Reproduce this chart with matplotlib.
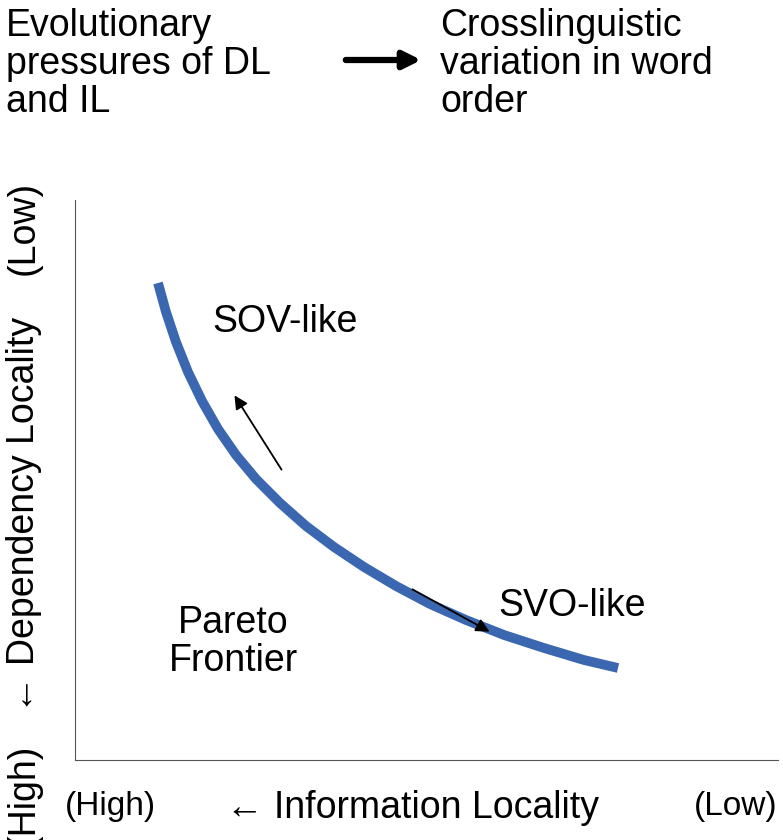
import matplotlib

matplotlib.use("Agg")
import matplotlib.pyplot as plt

# frontier curve in pixel coordinates
curve_px_x = [158, 166, 176, 188, 202, 218, 236, 256, 280, 306, 334, 364, 396, 430, 466, 504, 544, 584, 618]
curve_px_y = [283, 312, 342, 372, 401, 429, 455, 479, 503, 526, 547, 567, 586, 604, 620, 635, 648, 660, 668]

plt.rcParams["font.family"] = ["Liberation Sans", "DejaVu Sans"]
W, H = 783, 840
fig = plt.figure(figsize=(W / 100, H / 100), dpi=100)
ax = fig.add_axes([75 / W, 1 - 760 / H, 703 / W, 560 / H])
ax.set_xlim(0, 1)
ax.set_ylim(0, 1)
ax.set_xticks([])
ax.set_yticks([])
for s in ["top", "right"]:
    ax.spines[s].set_visible(False)
ax.spines["left"].set_color("#555555")
ax.spines["bottom"].set_color("#555555")


def px(x, y):
    return ((x - 75) / 703, (760 - y) / 560)


cx = [(x - 75) / 703 for x in curve_px_x]
cy = [(760 - y) / 560 for y in curve_px_y]
ax.plot(cx, cy, color="#3b67b0", lw=7, solid_capstyle="butt", solid_joinstyle="round")

kw = dict(arrowstyle="-|>", color="black", lw=1.3, mutation_scale=20)
ax.annotate("", xy=px(233, 393), xytext=px(283, 472), arrowprops=kw)
ax.annotate("", xy=px(492, 633), xytext=px(410, 588), arrowprops=kw)

fs = 27
ax.text(*px(285, 322), "SOV-like", fontsize=fs, ha="center", va="center")
ax.text(*px(572, 606), "SVO-like", fontsize=fs, ha="center", va="center")
ax.text(*px(233, 642), "Pareto\nFrontier", fontsize=fs, ha="center", va="center",
        linespacing=1.1)

fig.text(6 / W, 1 - 8 / H, "Evolutionary\npressures of DL\nand IL", fontsize=fs,
         ha="left", va="top", linespacing=1.08)
fig.text(440 / W, 1 - 8 / H, "Crosslinguistic\nvariation in word\norder", fontsize=fs,
         ha="left", va="top", linespacing=1.08)
fig.patches.append(matplotlib.patches.FancyArrowPatch(
    (343 / W, 1 - 60 / H), (424 / W, 1 - 60 / H), transform=fig.transFigure,
    arrowstyle="-|>", mutation_scale=26, lw=4.5, color="black"))

fig.text(24 / W, 1 - 228 / H, "(Low)", fontsize=fs, rotation=90, ha="center", va="center")
fig.text(24 / W, 1 - 515 / H, "\u2190 Dependency Locality", fontsize=fs, rotation=90,
         ha="center", va="center")
fig.text(24 / W, 1 - 795 / H, "(High)", fontsize=fs, rotation=90, ha="center", va="center")
fig.text(110 / W, 1 - 806 / H, "(High)", fontsize=fs - 3, ha="center", va="center")
fig.text(413 / W, 1 - 808 / H, "\u2190 Information Locality", fontsize=fs, ha="center",
         va="center")
fig.text(736 / W, 1 - 806 / H, "(Low)", fontsize=fs - 3, ha="center", va="center")

fig.savefig("out.png", dpi=100)
